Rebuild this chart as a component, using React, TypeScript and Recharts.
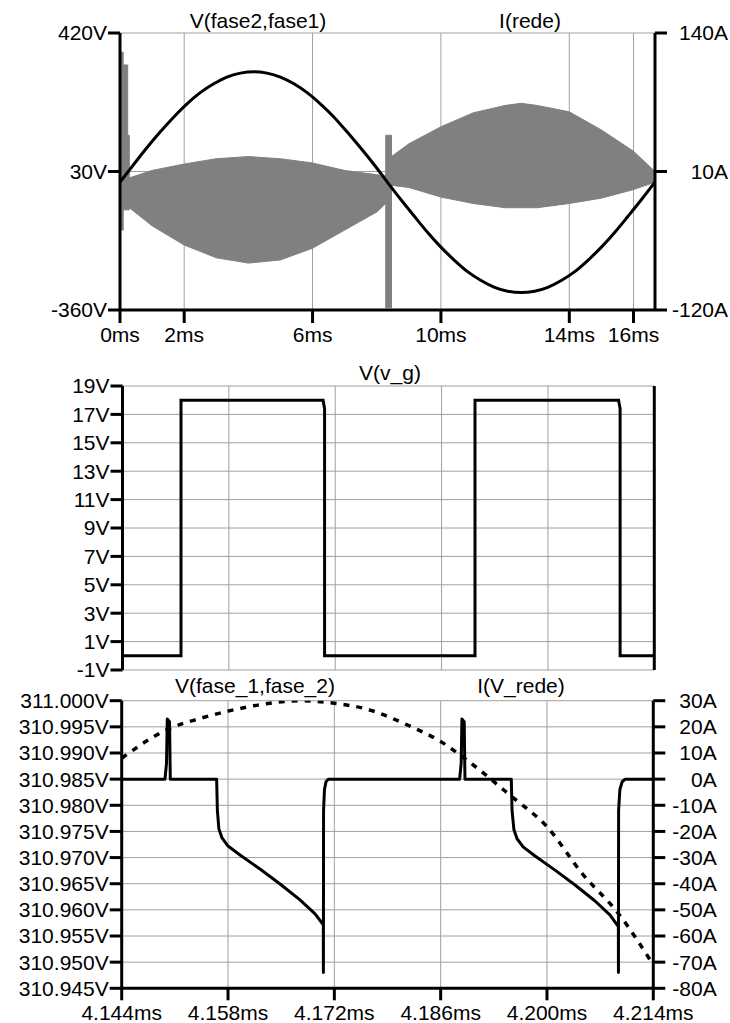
import React from 'react';
import { ComposedChart, Line, Area, XAxis, YAxis, CartesianGrid } from 'recharts';

const FONT = '"Liberation Sans", Arial, Helvetica, sans-serif';
const FS = 21;
const GRID = '#a0a0a0';
const AX = { stroke: '#000', strokeWidth: 3 };
const TICK = { fontFamily: FONT, fontSize: FS, fill: '#000' };

// ---------------- Panel 1: V(fase2,fase1) and I(rede) over one grid period ----------------
const p1TimeTicks = [0, 2, 6, 10, 14, 16];
const p1VoltTicks = [-360, 30, 420];
const p1AmpTicks = [-120, 10, 140];

const sineTime = [
  0, 0.42, 0.83, 1.25, 1.67, 2.08, 2.5, 2.92, 3.33, 3.75, 4.17, 4.58, 5.0, 5.42, 5.83, 6.25, 6.67, 7.08, 7.5, 7.92,
  8.33, 8.75, 9.17, 9.58, 10.0, 10.42, 10.83, 11.25, 11.67, 12.08, 12.5, 12.92, 13.33, 13.75, 14.17, 14.58, 15.0,
  15.42, 15.83, 16.25, 16.67,
];
const sineVolt = [
  0, 49, 96, 141, 183, 220, 252, 277, 296, 307, 311, 307, 296, 277, 252, 220, 183, 141, 96, 49,
  0, -49, -96, -141, -183, -220, -252, -277, -296, -307, -311, -307, -296, -277, -252, -220, -183,
  -141, -96, -49, 0,
];

const redeTime = [
  0, 0.1, 0.1, 0.24, 0.24, 0.29, 0.29, 1.0, 2.0, 3.0, 4.0, 5.0, 6.0, 7.0, 8.0, 8.28, 8.28, 8.46, 8.46,
  9.0, 10.0, 11.0, 12.0, 12.5, 13.0, 14.0, 15.0, 16.0, 16.67,
];
const redeLow = [
  -45, -45, -26, -26, -26, -26, -24, -41, -59, -71, -76, -73, -62, -45, -28, -20, -118, -118, -3,
  -5, -14, -20, -24, -24, -24, -20, -15, -7, 0,
];
const redeHigh = [
  122, 122, 110, 110, 44, 44, 4, 11, 17, 22, 24, 22, 18, 11, 7, 6, 44, 44, 24,
  36, 52, 65, 72, 74, 72, 66, 49, 29, 10,
];

// ---------------- Panel 2: V(v_g) ----------------
const swTimeTicks = [4.144, 4.158, 4.172, 4.186, 4.2, 4.214];
const gateTicks = [-1, 1, 3, 5, 7, 9, 11, 13, 15, 17, 19];
const gateTime = [4.144, 4.1517, 4.1517, 4.1704, 4.1706, 4.1706, 4.1904, 4.1904, 4.2093, 4.2095, 4.2095, 4.214];
const gateVolt = [0, 0, 18, 18, 17.4, 0, 0, 18, 18, 17.4, 0, 0];

// ---------------- Panel 3: V(fase_1,fase_2) and I(V_rede) zoomed ----------------
const zoomVoltTicks = [310.945, 310.95, 310.955, 310.96, 310.965, 310.97, 310.975, 310.98, 310.985, 310.99, 310.995, 311.0];
const zoomAmpTicks = [-80, -70, -60, -50, -40, -30, -20, -10, 0, 10, 20, 30];

const faseTime = [4.144, 4.15, 4.1543, 4.158, 4.1625, 4.1675, 4.172, 4.176, 4.1817, 4.186, 4.1894, 4.1954, 4.2, 4.2046, 4.2094, 4.214];
const faseVolt = [
  310.989, 310.9945, 310.9966, 310.998, 310.9993, 311.0, 310.9995, 310.9985, 310.9953, 310.9922, 310.9887,
  310.9816, 310.9759, 310.967, 310.9593, 310.9495,
];

const vRedeTime = [
  4.144, 4.1497, 4.1499, 4.15, 4.1503, 4.1504, 4.1565, 4.1566, 4.1568,
  4.15721, 4.158, 4.15958, 4.16221, 4.16485, 4.16748, 4.16946, 4.17055,
  4.17056, 4.17058, 4.1707, 4.1709, 4.1712,
  4.1885, 4.1887, 4.1888, 4.1891, 4.1892, 4.1953, 4.1954, 4.19565,
  4.19606, 4.19685, 4.19843, 4.20106, 4.2037, 4.20633, 4.20831, 4.2094,
  4.20941, 4.20943, 4.2096, 4.2099, 4.2103, 4.214,
];
const vRedeAmp = [
  0, 0, 6, 23, 22, 0, 0, -12, -19.1,
  -22.5, -25.6, -29.0, -34.4, -40.1, -46.2, -51.5, -55.7,
  -74, -12, -4, -1, 0,
  0, 6, 23, 22, 0, 0, -12, -19.4,
  -22.8, -25.9, -29.4, -34.8, -40.5, -46.6, -52.0, -56.4,
  -74, -12, -4, -1, 0, 0,
];

// ---------------- derived tables ----------------
const sineData = sineTime.map((t, i) => ({ t, v: sineVolt[i] }));
const redeData = redeTime.map((t, i) => ({ t, r: [redeLow[i], redeHigh[i]] }));
const gateData = gateTime.map((t, i) => ({ t, v: gateVolt[i] }));
const faseData = faseTime.map((t, i) => ({ t, v: faseVolt[i] }));
const vRedeData = vRedeTime.map((t, i) => ({ t, a: vRedeAmp[i] }));

const makeRightTick = (endOffset: number) => (props: any) => {
  const { x, y, payload } = props;
  return (
    <text x={x + endOffset} y={y} dy="0.355em" textAnchor="end" fontFamily={FONT} fontSize={FS} fill="#000">
      {`${payload.value}A`}
    </text>
  );
};
const NoTick = () => <g />;

const titleStyle = { fontFamily: FONT, fontSize: FS, fill: '#000' } as const;

export default function App() {
  return (
    <div style={{ position: 'absolute', left: 0, top: 0, width: 730, height: 1023, background: '#fff' }}>
      {/* Panel 1 */}
      <div style={{ position: 'absolute', left: 0, top: 0 }}>
        <ComposedChart width={730} height={350} margin={{ top: 33, right: 0, bottom: 0, left: 0 }}>
          <CartesianGrid stroke={GRID} strokeWidth={1} />
          <XAxis
            dataKey="t"
            type="number"
            domain={[0, 16.67]}
            ticks={p1TimeTicks}
            interval={0}
            allowDataOverflow
            height={40}
            tickSize={13}
            tickMargin={4}
            tickFormatter={(v: number) => `${v}ms`}
            axisLine={AX}
            tickLine={AX}
            tick={TICK}
          />
          <XAxis xAxisId="top" orientation="top" type="number" domain={[0, 16.67]} height={0} tick={false} tickLine={false} axisLine={AX} />
          <YAxis
            type="number"
            domain={[-360, 420]}
            ticks={p1VoltTicks}
            interval={0}
            width={120}
            tickSize={12}
            tickMargin={1}
            tickFormatter={(v: number) => `${v}V`}
            axisLine={AX}
            tickLine={AX}
            tick={TICK}
          />
          <YAxis
            yAxisId="right"
            orientation="right"
            type="number"
            domain={[-120, 140]}
            ticks={p1AmpTicks}
            interval={0}
            width={75}
            tickSize={12}
            tickMargin={0}
            axisLine={AX}
            tickLine={AX}
            tick={makeRightTick(61)}
          />
          <Area
            yAxisId="right"
            data={redeData}
            dataKey="r"
            type="linear"
            stroke="#808080"
            strokeWidth={1}
            fill="#808080"
            fillOpacity={1}
            isAnimationActive={false}
          />
          <Line data={sineData} dataKey="v" type="monotone" stroke="#000" strokeWidth={3} dot={false} isAnimationActive={false} />
        </ComposedChart>
      </div>

      {/* Panel 2 */}
      <div style={{ position: 'absolute', left: 0, top: 340 }}>
        <ComposedChart width={730} height={350} margin={{ top: 46, right: 0, bottom: 20, left: 0 }}>
          <CartesianGrid stroke={GRID} strokeWidth={1} />
          <XAxis
            dataKey="t"
            type="number"
            domain={[4.144, 4.214]}
            ticks={swTimeTicks}
            interval={0}
            allowDataOverflow
            height={0}
            tickLine={false}
            axisLine={AX}
            tick={NoTick}
          />
          <XAxis xAxisId="top" orientation="top" type="number" domain={[4.144, 4.214]} height={0} tick={false} tickLine={false} axisLine={AX} />
          <YAxis
            type="number"
            domain={[-1, 19]}
            ticks={gateTicks}
            interval={0}
            width={122.5}
            tickSize={12}
            tickMargin={1}
            tickFormatter={(v: number) => `${v}V`}
            axisLine={AX}
            tickLine={AX}
            tick={TICK}
          />
          <YAxis yAxisId="right" orientation="right" type="number" domain={[-1, 19]} width={75.7} tick={false} tickLine={false} axisLine={AX} />
          <Line data={gateData} dataKey="v" type="linear" stroke="#000" strokeWidth={3} dot={false} isAnimationActive={false} />
        </ComposedChart>
      </div>

      {/* Panel 3 */}
      <div style={{ position: 'absolute', left: 0, top: 670 }}>
        <ComposedChart width={730} height={353} margin={{ top: 30.7, right: 0, bottom: 0, left: 0 }}>
          <CartesianGrid stroke={GRID} strokeWidth={1} />
          <XAxis
            dataKey="t"
            type="number"
            domain={[4.144, 4.214]}
            ticks={swTimeTicks}
            interval={0}
            allowDataOverflow
            height={34.7}
            tickSize={12}
            tickMargin={5}
            tickFormatter={(v: number) => `${v.toFixed(3)}ms`}
            axisLine={AX}
            tickLine={AX}
            tick={TICK}
          />
          <XAxis xAxisId="top" orientation="top" type="number" domain={[4.144, 4.214]} height={0} tick={false} tickLine={false} axisLine={AX} />
          <YAxis
            type="number"
            domain={[310.945, 311.0]}
            ticks={zoomVoltTicks}
            interval={0}
            allowDataOverflow
            width={121.7}
            tickSize={12}
            tickMargin={1}
            tickFormatter={(v: number) => `${v.toFixed(3)}V`}
            axisLine={AX}
            tickLine={AX}
            tick={TICK}
          />
          <YAxis
            yAxisId="right"
            orientation="right"
            type="number"
            domain={[-80, 30]}
            ticks={zoomAmpTicks}
            interval={0}
            allowDataOverflow
            width={76.7}
            tickSize={12}
            tickMargin={0}
            axisLine={AX}
            tickLine={AX}
            tick={makeRightTick(51.4)}
          />
          <Line
            data={faseData}
            dataKey="v"
            type="monotone"
            stroke="#000"
            strokeWidth={3.5}
            strokeDasharray="6 7"
            dot={false}
            isAnimationActive={false}
          />
          <Line
            yAxisId="right"
            data={vRedeData}
            dataKey="a"
            type="linear"
            stroke="#000"
            strokeWidth={3}
            strokeLinejoin="round"
            dot={false}
            isAnimationActive={false}
          />
        </ComposedChart>
      </div>

      {/* Trace titles */}
      <svg width={730} height={1023} style={{ position: 'absolute', left: 0, top: 0, pointerEvents: 'none' }}>
        <text x={258} y={28} textAnchor="middle" {...titleStyle}>V(fase2,fase1)</text>
        <text x={530} y={28} textAnchor="middle" {...titleStyle}>I(rede)</text>
        <text x={390} y={380} textAnchor="middle" {...titleStyle}>V(v_g)</text>
        <text x={255} y={693} textAnchor="middle" {...titleStyle}>V(fase_1,fase_2)</text>
        <text x={521} y={693} textAnchor="middle" {...titleStyle}>I(V_rede)</text>
      </svg>
    </div>
  );
}
